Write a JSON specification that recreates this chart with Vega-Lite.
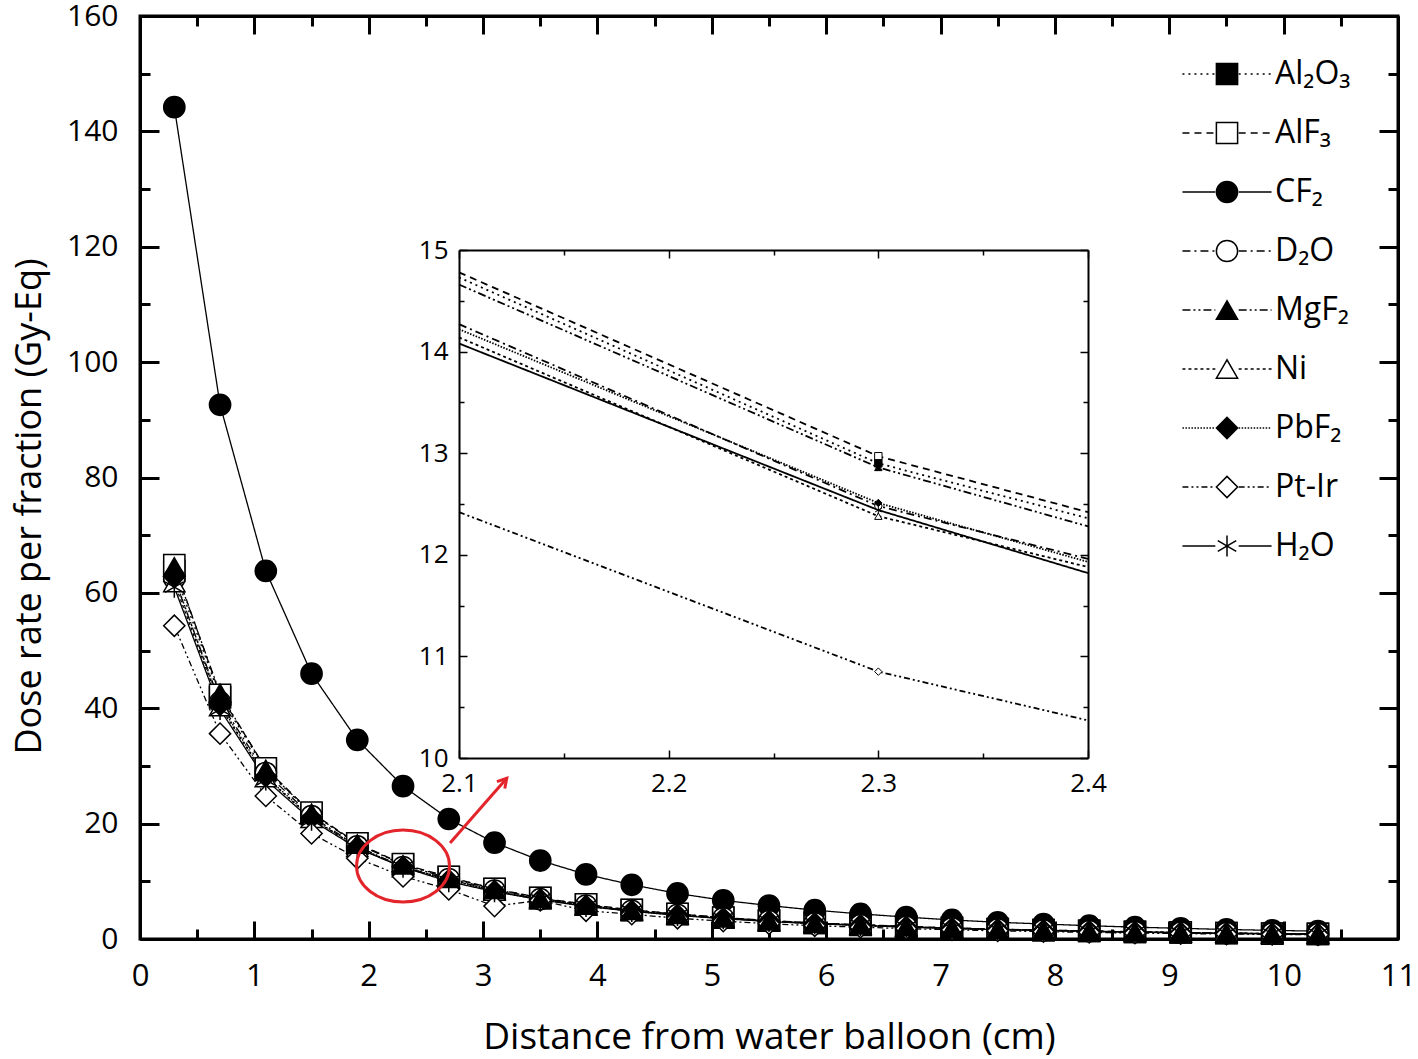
{
  "$schema": "https://vega.github.io/schema/vega-lite/v6.json",
  "width": 1258,
  "height": 923,
  "autosize": {"type": "none"},
  "padding": {"left": 140, "top": 16, "right": 20, "bottom": 120},
  "background": "white",
  "config": {
    "font": "Open Sans",
    "view": {"stroke": "black", "strokeWidth": 3},
    "axis": {"grid": false, "domainColor": "black", "tickColor": "black", "labelColor": "black", "titleColor": "black", "titleFontWeight": "normal", "labelFlush": false, "labelOverlap": false},
    "legend": {"symbolStrokeColor": "black"}
  },
  "datasets": {
    "main": [
      {"m":"Al₂O₃","x":0.3,"y":63.8},{"m":"Al₂O₃","x":0.7,"y":41.9},{"m":"Al₂O₃","x":1.1,"y":29.3},{"m":"Al₂O₃","x":1.5,"y":21.7},{"m":"Al₂O₃","x":1.9,"y":16.56},{"m":"Al₂O₃","x":2.3,"y":12.9},{"m":"Al₂O₃","x":2.7,"y":10.74},{"m":"Al₂O₃","x":3.1,"y":8.65},{"m":"Al₂O₃","x":3.5,"y":7.1},{"m":"Al₂O₃","x":3.9,"y":5.95},{"m":"Al₂O₃","x":4.3,"y":5.02},{"m":"Al₂O₃","x":4.7,"y":4.32},{"m":"Al₂O₃","x":5.1,"y":3.7},{"m":"Al₂O₃","x":5.5,"y":3.18},{"m":"Al₂O₃","x":5.9,"y":2.78},{"m":"Al₂O₃","x":6.3,"y":2.46},{"m":"Al₂O₃","x":6.7,"y":2.16},{"m":"Al₂O₃","x":7.1,"y":1.9},{"m":"Al₂O₃","x":7.5,"y":1.7},{"m":"Al₂O₃","x":7.9,"y":1.54},{"m":"Al₂O₃","x":8.3,"y":1.39},{"m":"Al₂O₃","x":8.7,"y":1.24},{"m":"Al₂O₃","x":9.1,"y":1.13},{"m":"Al₂O₃","x":9.5,"y":1.03},{"m":"Al₂O₃","x":9.9,"y":0.94},{"m":"Al₂O₃","x":10.3,"y":0.87},
      {"m":"AlF₃","x":0.3,"y":64.8},{"m":"AlF₃","x":0.7,"y":42.3},{"m":"AlF₃","x":1.1,"y":29.6},{"m":"AlF₃","x":1.5,"y":21.9},{"m":"AlF₃","x":1.9,"y":16.6},{"m":"AlF₃","x":2.3,"y":12.97},{"m":"AlF₃","x":2.7,"y":10.77},{"m":"AlF₃","x":3.1,"y":8.7},{"m":"AlF₃","x":3.5,"y":7.15},{"m":"AlF₃","x":3.9,"y":6.0},{"m":"AlF₃","x":4.3,"y":5.05},{"m":"AlF₃","x":4.7,"y":4.35},{"m":"AlF₃","x":5.1,"y":3.72},{"m":"AlF₃","x":5.5,"y":3.2},{"m":"AlF₃","x":5.9,"y":2.8},{"m":"AlF₃","x":6.3,"y":2.48},{"m":"AlF₃","x":6.7,"y":2.18},{"m":"AlF₃","x":7.1,"y":1.92},{"m":"AlF₃","x":7.5,"y":1.71},{"m":"AlF₃","x":7.9,"y":1.55},{"m":"AlF₃","x":8.3,"y":1.4},{"m":"AlF₃","x":8.7,"y":1.25},{"m":"AlF₃","x":9.1,"y":1.14},{"m":"AlF₃","x":9.5,"y":1.04},{"m":"AlF₃","x":9.9,"y":0.95},{"m":"AlF₃","x":10.3,"y":0.88},
      {"m":"CF₂","x":0.3,"y":144.2},{"m":"CF₂","x":0.7,"y":92.6},{"m":"CF₂","x":1.1,"y":63.8},{"m":"CF₂","x":1.5,"y":46.0},{"m":"CF₂","x":1.9,"y":34.5},{"m":"CF₂","x":2.3,"y":26.5},{"m":"CF₂","x":2.7,"y":20.8},{"m":"CF₂","x":3.1,"y":16.7},{"m":"CF₂","x":3.5,"y":13.6},{"m":"CF₂","x":3.9,"y":11.2},{"m":"CF₂","x":4.3,"y":9.4},{"m":"CF₂","x":4.7,"y":7.9},{"m":"CF₂","x":5.1,"y":6.7},{"m":"CF₂","x":5.5,"y":5.8},{"m":"CF₂","x":5.9,"y":5.0},{"m":"CF₂","x":6.3,"y":4.35},{"m":"CF₂","x":6.7,"y":3.8},{"m":"CF₂","x":7.1,"y":3.3},{"m":"CF₂","x":7.5,"y":2.9},{"m":"CF₂","x":7.9,"y":2.6},{"m":"CF₂","x":8.3,"y":2.3},{"m":"CF₂","x":8.7,"y":2.05},{"m":"CF₂","x":9.1,"y":1.85},{"m":"CF₂","x":9.5,"y":1.65},{"m":"CF₂","x":9.9,"y":1.5},{"m":"CF₂","x":10.3,"y":1.35},
      {"m":"D₂O","x":0.3,"y":62.5},{"m":"D₂O","x":0.7,"y":41.0},{"m":"D₂O","x":1.1,"y":28.8},{"m":"D₂O","x":1.5,"y":21.3},{"m":"D₂O","x":1.9,"y":16.06},{"m":"D₂O","x":2.3,"y":12.48},{"m":"D₂O","x":2.7,"y":10.4},{"m":"D₂O","x":3.1,"y":8.4},{"m":"D₂O","x":3.5,"y":6.9},{"m":"D₂O","x":3.9,"y":5.8},{"m":"D₂O","x":4.3,"y":4.9},{"m":"D₂O","x":4.7,"y":4.2},{"m":"D₂O","x":5.1,"y":3.6},{"m":"D₂O","x":5.5,"y":3.1},{"m":"D₂O","x":5.9,"y":2.7},{"m":"D₂O","x":6.3,"y":2.4},{"m":"D₂O","x":6.7,"y":2.1},{"m":"D₂O","x":7.1,"y":1.86},{"m":"D₂O","x":7.5,"y":1.66},{"m":"D₂O","x":7.9,"y":1.5},{"m":"D₂O","x":8.3,"y":1.35},{"m":"D₂O","x":8.7,"y":1.21},{"m":"D₂O","x":9.1,"y":1.1},{"m":"D₂O","x":9.5,"y":1.0},{"m":"D₂O","x":9.9,"y":0.92},{"m":"D₂O","x":10.3,"y":0.85},
      {"m":"Ni","x":0.3,"y":61.8},{"m":"Ni","x":0.7,"y":40.3},{"m":"Ni","x":1.1,"y":28.0},{"m":"Ni","x":1.5,"y":20.9},{"m":"Ni","x":1.9,"y":15.9},{"m":"Ni","x":2.3,"y":12.38},{"m":"Ni","x":2.7,"y":10.38},{"m":"Ni","x":3.1,"y":8.3},{"m":"Ni","x":3.5,"y":6.85},{"m":"Ni","x":3.9,"y":5.72},{"m":"Ni","x":4.3,"y":4.83},{"m":"Ni","x":4.7,"y":4.15},{"m":"Ni","x":5.1,"y":3.56},{"m":"Ni","x":5.5,"y":3.07},{"m":"Ni","x":5.9,"y":2.68},{"m":"Ni","x":6.3,"y":2.37},{"m":"Ni","x":6.7,"y":2.08},{"m":"Ni","x":7.1,"y":1.84},{"m":"Ni","x":7.5,"y":1.64},{"m":"Ni","x":7.9,"y":1.48},{"m":"Ni","x":8.3,"y":1.33},{"m":"Ni","x":8.7,"y":1.19},{"m":"Ni","x":9.1,"y":1.08},{"m":"Ni","x":9.5,"y":0.98},{"m":"Ni","x":9.9,"y":0.9},{"m":"Ni","x":10.3,"y":0.83},
      {"m":"PbF₂","x":0.3,"y":62.8},{"m":"PbF₂","x":0.7,"y":40.6},{"m":"PbF₂","x":1.1,"y":28.2},{"m":"PbF₂","x":1.5,"y":21.0},{"m":"PbF₂","x":1.9,"y":15.93},{"m":"PbF₂","x":2.3,"y":12.51},{"m":"PbF₂","x":2.7,"y":10.19},{"m":"PbF₂","x":3.1,"y":8.3},{"m":"PbF₂","x":3.5,"y":6.85},{"m":"PbF₂","x":3.9,"y":5.75},{"m":"PbF₂","x":4.3,"y":4.85},{"m":"PbF₂","x":4.7,"y":4.17},{"m":"PbF₂","x":5.1,"y":3.58},{"m":"PbF₂","x":5.5,"y":3.08},{"m":"PbF₂","x":5.9,"y":2.69},{"m":"PbF₂","x":6.3,"y":2.38},{"m":"PbF₂","x":6.7,"y":2.09},{"m":"PbF₂","x":7.1,"y":1.85},{"m":"PbF₂","x":7.5,"y":1.65},{"m":"PbF₂","x":7.9,"y":1.49},{"m":"PbF₂","x":8.3,"y":1.34},{"m":"PbF₂","x":8.7,"y":1.2},{"m":"PbF₂","x":9.1,"y":1.09},{"m":"PbF₂","x":9.5,"y":0.99},{"m":"PbF₂","x":9.9,"y":0.91},{"m":"PbF₂","x":10.3,"y":0.84},
      {"m":"Pt-Ir","x":0.3,"y":54.3},{"m":"Pt-Ir","x":0.7,"y":35.6},{"m":"Pt-Ir","x":1.1,"y":24.8},{"m":"Pt-Ir","x":1.5,"y":18.3},{"m":"Pt-Ir","x":1.9,"y":13.99},{"m":"Pt-Ir","x":2.3,"y":10.85},{"m":"Pt-Ir","x":2.7,"y":8.6},{"m":"Pt-Ir","x":3.1,"y":5.7},{"m":"Pt-Ir","x":3.5,"y":6.7},{"m":"Pt-Ir","x":3.9,"y":4.9},{"m":"Pt-Ir","x":4.3,"y":4.3},{"m":"Pt-Ir","x":4.7,"y":3.6},{"m":"Pt-Ir","x":5.1,"y":3.1},{"m":"Pt-Ir","x":5.5,"y":2.65},{"m":"Pt-Ir","x":5.9,"y":2.3},{"m":"Pt-Ir","x":6.3,"y":2.05},{"m":"Pt-Ir","x":6.7,"y":1.8},{"m":"Pt-Ir","x":7.1,"y":1.6},{"m":"Pt-Ir","x":7.5,"y":1.42},{"m":"Pt-Ir","x":7.9,"y":1.28},{"m":"Pt-Ir","x":8.3,"y":1.15},{"m":"Pt-Ir","x":8.7,"y":1.03},{"m":"Pt-Ir","x":9.1,"y":0.94},{"m":"Pt-Ir","x":9.5,"y":0.86},{"m":"Pt-Ir","x":9.9,"y":0.79},{"m":"Pt-Ir","x":10.3,"y":0.73},
      {"m":"H₂O","x":0.3,"y":61.0},{"m":"H₂O","x":0.7,"y":39.8},{"m":"H₂O","x":1.1,"y":27.6},{"m":"H₂O","x":1.5,"y":20.6},{"m":"H₂O","x":1.9,"y":15.72},{"m":"H₂O","x":2.3,"y":12.44},{"m":"H₂O","x":2.7,"y":9.96},{"m":"H₂O","x":3.1,"y":8.2},{"m":"H₂O","x":3.5,"y":6.8},{"m":"H₂O","x":3.9,"y":5.65},{"m":"H₂O","x":4.3,"y":4.8},{"m":"H₂O","x":4.7,"y":4.1},{"m":"H₂O","x":5.1,"y":3.52},{"m":"H₂O","x":5.5,"y":3.04},{"m":"H₂O","x":5.9,"y":2.65},{"m":"H₂O","x":6.3,"y":2.35},{"m":"H₂O","x":6.7,"y":2.06},{"m":"H₂O","x":7.1,"y":1.82},{"m":"H₂O","x":7.5,"y":1.62},{"m":"H₂O","x":7.9,"y":1.47},{"m":"H₂O","x":8.3,"y":1.32},{"m":"H₂O","x":8.7,"y":1.18},{"m":"H₂O","x":9.1,"y":1.07},{"m":"H₂O","x":9.5,"y":0.97},{"m":"H₂O","x":9.9,"y":0.89},{"m":"H₂O","x":10.3,"y":0.82},
      {"m":"MgF₂","x":0.3,"y":64.5},{"m":"MgF₂","x":0.7,"y":42.6},{"m":"MgF₂","x":1.1,"y":29.4},{"m":"MgF₂","x":1.5,"y":21.8},{"m":"MgF₂","x":1.9,"y":16.46},{"m":"MgF₂","x":2.3,"y":12.86},{"m":"MgF₂","x":2.7,"y":10.54},{"m":"MgF₂","x":3.1,"y":8.6},{"m":"MgF₂","x":3.5,"y":7.05},{"m":"MgF₂","x":3.9,"y":5.9},{"m":"MgF₂","x":4.3,"y":4.98},{"m":"MgF₂","x":4.7,"y":4.3},{"m":"MgF₂","x":5.1,"y":3.68},{"m":"MgF₂","x":5.5,"y":3.16},{"m":"MgF₂","x":5.9,"y":2.76},{"m":"MgF₂","x":6.3,"y":2.44},{"m":"MgF₂","x":6.7,"y":2.15},{"m":"MgF₂","x":7.1,"y":1.89},{"m":"MgF₂","x":7.5,"y":1.69},{"m":"MgF₂","x":7.9,"y":1.53},{"m":"MgF₂","x":8.3,"y":1.38},{"m":"MgF₂","x":8.7,"y":1.23},{"m":"MgF₂","x":9.1,"y":1.12},{"m":"MgF₂","x":9.5,"y":1.02},{"m":"MgF₂","x":9.9,"y":0.93},{"m":"MgF₂","x":10.3,"y":0.86}
    ],
    "inset": [
      {"m":"AlF₃","x":2.1,"y":14.78},{"m":"AlF₃","x":2.3,"y":12.97},{"m":"AlF₃","x":2.4,"y":12.42},
      {"m":"Al₂O₃","x":2.1,"y":14.73},{"m":"Al₂O₃","x":2.3,"y":12.9},{"m":"Al₂O₃","x":2.4,"y":12.36},
      {"m":"D₂O","x":2.1,"y":14.27},{"m":"D₂O","x":2.3,"y":12.48},{"m":"D₂O","x":2.4,"y":11.96},
      {"m":"H₂O","x":2.1,"y":14.08},{"m":"H₂O","x":2.3,"y":12.44},{"m":"H₂O","x":2.4,"y":11.82},
      {"m":"Ni","x":2.1,"y":14.14},{"m":"Ni","x":2.3,"y":12.38},{"m":"Ni","x":2.4,"y":11.88},
      {"m":"PbF₂","x":2.1,"y":14.22},{"m":"PbF₂","x":2.3,"y":12.51},{"m":"PbF₂","x":2.4,"y":11.93},
      {"m":"MgF₂","x":2.1,"y":14.66},{"m":"MgF₂","x":2.3,"y":12.86},{"m":"MgF₂","x":2.4,"y":12.28},
      {"m":"Pt-Ir","x":2.1,"y":12.42},{"m":"Pt-Ir","x":2.3,"y":10.85},{"m":"Pt-Ir","x":2.4,"y":10.37}
    ],
    "ellipse": [{"x": 2.3, "y": 12.65}],
    "arrow": [{"x": 2.711, "y": 16.64, "x2": 3.207, "y2": 27.86}]
  },
  "layer": [
    {
      "data": {"name": "main"},
      "mark": {"type": "line", "stroke": "black", "strokeWidth": 1.3},
      "encoding": {
        "x": {"field": "x", "type": "quantitative", "scale": {"domain": [0, 11], "nice": false, "zero": false},
          "axis": {"orient": "bottom", "values": [0,0.5,1,1.5,2,2.5,3,3.5,4,4.5,5,5.5,6,6.5,7,7.5,8,8.5,9,9.5,10,10.5,11],
            "labelExpr": "datum.value % 1 === 0 ? format(datum.value, 'd') : ''",
            "tickSize": {"condition": {"test": "datum.value % 1 === 0", "value": -18}, "value": -10},
            "tickWidth": 3, "domainWidth": 3, "labelFontSize": 31, "labelPadding": 40,
            "title": "Distance from water balloon (cm)", "titleFontSize": 37, "titlePadding": 20}},
        "y": {"field": "y", "type": "quantitative", "scale": {"domain": [0, 160], "nice": false},
          "axis": {"orient": "left", "values": [0,10,20,30,40,50,60,70,80,90,100,110,120,130,140,150,160],
            "labelExpr": "datum.value % 20 === 0 ? format(datum.value, 'd') : ''",
            "tickSize": {"condition": {"test": "datum.value % 20 === 0", "value": -19}, "value": -10},
            "tickWidth": 3, "domainWidth": 3, "labelFontSize": 30, "labelPadding": 41,
            "title": "Dose rate per fraction (Gy-Eq)", "titleFontSize": 36, "titlePadding": 18, "titleY": 490}},
        "strokeDash": {"field": "m", "type": "nominal",
          "scale": {"domain": ["H₂O","Al₂O₃","AlF₃","CF₂","D₂O","MgF₂","Ni","PbF₂","Pt-Ir"],
            "range": [[1,0],[2,4],[7,5],[1,0],[8,4,2,4],[8,3,2,3,2,3],[3,3],[1.5,1.5],[6,3,2,3,2,3]]},
          "legend": {"orient": "none", "legendX": 1071, "legendY": 42, "title": null, "padding": 0,
            "values": ["Al₂O₃","AlF₃","CF₂","D₂O","MgF₂","Ni","PbF₂","Pt-Ir","H₂O"],
            "symbolType": "M-4.2,0L-1.1,0M1.1,0L4.2,0", "symbolSize": 450, "symbolStrokeColor": "black", "symbolStrokeWidth": 1.3,
            "labelExpr": "''", "labelFontSize": 32, "labelOffset": 32, "rowPadding": 27}}
      }
    },
    {
      "data": {"name": "main"},
      "mark": {"type": "point", "filled": true, "stroke": "black", "strokeWidth": 1.5, "size": 450, "opacity": 1},
      "encoding": {
        "x": {"field": "x", "type": "quantitative", "scale": {"domain": [0, 11], "nice": false, "zero": false}, "axis": null},
        "y": {"field": "y", "type": "quantitative", "scale": {"domain": [0, 160], "nice": false}, "axis": null},
        "shape": {"field": "m", "type": "nominal",
          "scale": {"domain": ["Al₂O₃","AlF₃","CF₂","D₂O","MgF₂","Ni","PbF₂","Pt-Ir","H₂O"],
            "range": ["square","square","circle","circle","triangle-up","triangle-up","diamond","diamond","M0,-1L0,1M-0.87,-0.5L0.87,0.5M-0.87,0.5L0.87,-0.5"]},
          "legend": {"orient": "none", "legendX": 1071, "legendY": 42, "title": null, "padding": 0, "symbolSize": 450,
            "symbolStrokeColor": "black", "symbolStrokeWidth": 1.5, "labelFontSize": 32, "labelOffset": 32, "rowPadding": 27, "labelLimit": 300, "labelColor": "black",
            "encoding": {"symbols": {"stroke": {"value": "black"}, "strokeWidth": {"value": 1.5}}}}},
        "fill": {"field": "m", "type": "nominal",
          "scale": {"domain": ["Al₂O₃","AlF₃","CF₂","D₂O","MgF₂","Ni","PbF₂","Pt-Ir","H₂O"],
            "range": ["black","white","black","white","black","white","black","white","white"]},
          "legend": {"orient": "none", "legendX": 1071, "legendY": 42, "title": null, "padding": 0, "symbolSize": 450,
            "symbolStrokeColor": "black", "symbolStrokeWidth": 1.5, "labelFontSize": 32, "labelOffset": 32, "rowPadding": 27, "labelLimit": 300, "labelColor": "black",
            "encoding": {"symbols": {"stroke": {"value": "black"}, "strokeWidth": {"value": 1.5}}}}}
      }
    },
    {
      "data": {"name": "ellipse"},
      "mark": {"type": "point", "shape": "M-1,0A1,0.774 0 1,1 1,0A1,0.774 0 1,1 -1,0Z", "size": 8649, "filled": false, "stroke": "#e3242b", "strokeWidth": 3, "opacity": 1},
      "encoding": {
        "x": {"field": "x", "type": "quantitative", "scale": {"domain": [0, 11], "nice": false, "zero": false}, "axis": null},
        "y": {"field": "y", "type": "quantitative", "scale": {"domain": [0, 160], "nice": false}, "axis": null}
      }
    },
    {
      "data": {"name": "arrow"},
      "mark": {"type": "rule", "stroke": "#e3242b", "strokeWidth": 3},
      "encoding": {
        "x": {"field": "x", "type": "quantitative", "scale": {"domain": [0, 11], "nice": false, "zero": false}, "axis": null},
        "y": {"field": "y", "type": "quantitative", "scale": {"domain": [0, 160], "nice": false}, "axis": null},
        "x2": {"field": "x2"},
        "y2": {"field": "y2"}
      }
    },
    {
      "data": {"name": "arrow"},
      "mark": {"type": "point", "shape": "M-0.55,0.95L0,0L0.55,0.95", "size": 360, "filled": false, "stroke": "#e3242b", "strokeWidth": 3, "angle": 41, "opacity": 1},
      "encoding": {
        "x": {"field": "x2", "type": "quantitative", "scale": {"domain": [0, 11], "nice": false, "zero": false}, "axis": null},
        "y": {"field": "y2", "type": "quantitative", "scale": {"domain": [0, 160], "nice": false}, "axis": null}
      }
    },
    {
      "data": {"values": [{}]},
      "mark": {"type": "point", "opacity": 0},
      "encoding": {
        "x": {"datum": 0, "type": "quantitative", "scale": {"domain": [0, 11], "nice": false, "zero": false},
          "axis": {"orient": "top", "values": [0,0.5,1,1.5,2,2.5,3,3.5,4,4.5,5,5.5,6,6.5,7,7.5,8,8.5,9,9.5,10,10.5,11], "labels": false, "title": null,
            "tickSize": {"condition": {"test": "datum.value % 1 === 0", "value": -18}, "value": -10}, "tickWidth": 3, "domainWidth": 3}},
        "y": {"datum": 0, "type": "quantitative", "scale": {"domain": [0, 160], "nice": false},
          "axis": {"orient": "right", "values": [0,10,20,30,40,50,60,70,80,90,100,110,120,130,140,150,160], "labels": false, "title": null,
            "tickSize": {"condition": {"test": "datum.value % 20 === 0", "value": -19}, "value": -10}, "tickWidth": 3, "domainWidth": 3}}
      }
    },
    {
      "data": {"name": "inset"},
      "mark": {"type": "line", "stroke": "black", "strokeWidth": 1.8},
      "encoding": {
        "x": {"field": "x", "type": "quantitative", "scale": {"domain": [2.1, 2.4], "range": [319, 948], "nice": false, "zero": false},
          "axis": {"orient": "bottom", "offset": -181, "values": [2.1,2.15,2.2,2.25,2.3,2.35,2.4],
            "labelExpr": "abs(datum.value*10 - round(datum.value*10)) < 0.001 ? format(datum.value, '.1f') : ''",
            "tickSize": {"condition": {"test": "abs(datum.value*10 - round(datum.value*10)) < 0.001", "value": -8}, "value": -5},
            "tickWidth": 1.5, "domainWidth": 2, "labelFontSize": 26, "labelPadding": 20, "title": null}},
        "y": {"field": "y", "type": "quantitative", "scale": {"domain": [10, 15], "range": [742, 234], "nice": false, "zero": false},
          "axis": {"orient": "left", "offset": -319, "values": [10,10.5,11,11.5,12,12.5,13,13.5,14,14.5,15],
            "labelExpr": "datum.value % 1 === 0 ? format(datum.value, 'd') : ''",
            "tickSize": {"condition": {"test": "datum.value % 1 === 0", "value": -8}, "value": -5},
            "tickWidth": 1.5, "domainWidth": 2, "labelFontSize": 26, "labelPadding": 19, "title": null}},
        "strokeDash": {"field": "m", "type": "nominal",
          "scale": {"domain": ["H₂O","Al₂O₃","AlF₃","CF₂","D₂O","MgF₂","Ni","PbF₂","Pt-Ir"],
            "range": [[1,0],[2,4],[7,5],[1,0],[8,4,2,4],[8,3,2,3,2,3],[3,3],[1.5,1.5],[6,3,2,3,2,3]]},
          "legend": null}
      }
    },
    {
      "data": {"name": "inset"},
      "transform": [{"filter": "datum.x === 2.3"}],
      "mark": {"type": "point", "filled": true, "stroke": "black", "strokeWidth": 1, "size": 55, "opacity": 1},
      "encoding": {
        "x": {"field": "x", "type": "quantitative", "scale": {"domain": [2.1, 2.4], "range": [319, 948], "nice": false, "zero": false}, "axis": null},
        "y": {"field": "y", "type": "quantitative", "scale": {"domain": [10, 15], "range": [742, 234], "nice": false, "zero": false}, "axis": null},
        "shape": {"field": "m", "type": "nominal",
          "scale": {"domain": ["Al₂O₃","AlF₃","CF₂","D₂O","MgF₂","Ni","PbF₂","Pt-Ir","H₂O"],
            "range": ["square","square","circle","circle","triangle-up","triangle-up","diamond","diamond","M0,-1L0,1M-0.87,-0.5L0.87,0.5M-0.87,0.5L0.87,-0.5"]},
          "legend": null},
        "fill": {"field": "m", "type": "nominal",
          "scale": {"domain": ["Al₂O₃","AlF₃","CF₂","D₂O","MgF₂","Ni","PbF₂","Pt-Ir","H₂O"],
            "range": ["black","white","black","white","black","white","black","white","white"]},
          "legend": null}
      }
    },
    {
      "data": {"values": [{}]},
      "mark": {"type": "point", "opacity": 0},
      "encoding": {
        "x": {"datum": 2.1, "type": "quantitative", "scale": {"domain": [2.1, 2.4], "range": [319, 948], "nice": false, "zero": false},
          "axis": {"orient": "top", "offset": -234, "values": [2.1,2.15,2.2,2.25,2.3,2.35,2.4], "labels": false, "title": null,
            "tickSize": {"condition": {"test": "abs(datum.value*10 - round(datum.value*10)) < 0.001", "value": -8}, "value": -5},
            "tickWidth": 1.5, "domainWidth": 2}},
        "y": {"datum": 10, "type": "quantitative", "scale": {"domain": [10, 15], "range": [742, 234], "nice": false, "zero": false},
          "axis": {"orient": "right", "offset": -310, "values": [10,10.5,11,11.5,12,12.5,13,13.5,14,14.5,15], "labels": false, "title": null,
            "tickSize": {"condition": {"test": "datum.value % 1 === 0", "value": -8}, "value": -5},
            "tickWidth": 1.5, "domainWidth": 2}}
      }
    }
  ],
  "resolve": {"scale": {"x": "independent", "y": "independent"}}
}
